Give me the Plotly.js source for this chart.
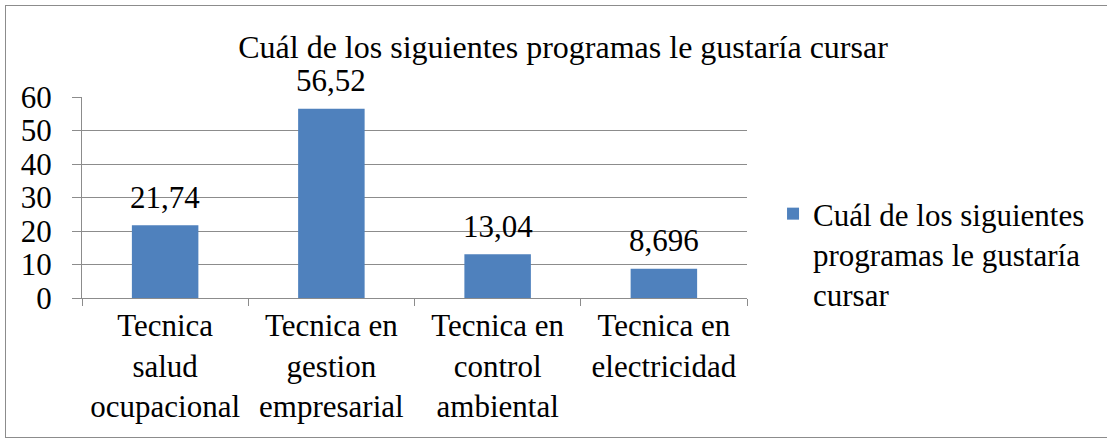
<!DOCTYPE html>
<html>
<head>
<meta charset="utf-8">
<script src="https://cdn.plot.ly/plotly-3.0.1.min.js"></script>
<style>
  html, body { margin: 0; padding: 0; background: #fff; }
  #wrap { position: relative; width: 1107px; height: 440px; }
  #chart { width: 1107px; height: 440px; }
  #frame { position: absolute; left: 5px; top: 5px; width: 1102px; height: 433px;
           border: 1px solid #8c8c8c; border-right: none; pointer-events: none; box-sizing: border-box; }
</style>
</head>
<body>
<div id="wrap">
  <div id="chart"></div>
  <div id="frame"></div>
</div>
<script>
const categories = [
  "Tecnica<br>salud<br>ocupacional",
  "Tecnica en<br>gestion<br>empresarial",
  "Tecnica en<br>control<br>ambiental",
  "Tecnica en<br>electricidad"
];
const values = [21.74, 56.52, 13.04, 8.696];
const valueLabels = ["21,74", "56,52", "13,04", "8,696"];
const seriesName = "Cuál de los siguientes<br>programas le gustaría<br>cursar";
const chartTitle = "Cuál de los siguientes programas le gustaría cursar";
const yTicks = [0, 10, 20, 30, 40, 50, 60];

const font = "Liberation Serif";

const trace = {
  type: "bar",
  x: categories,
  y: values,
  name: seriesName,
  marker: { color: "#4f81bd", line: { width: 0 } },
  showlegend: true,
  hoverinfo: "none"
};

const annotations = categories.map((c, i) => ({
  x: c, y: values[i], xref: "x", yref: "y",
  text: valueLabels[i],
  showarrow: false,
  yanchor: "middle",
  yshift: 28,
  font: { family: font, size: 31, color: "#000" }
}));

const layout = {
  width: 1107,
  height: 440,
  margin: { l: 82, r: 360, t: 97, b: 142 },
  paper_bgcolor: "rgba(0,0,0,0)",
  plot_bgcolor: "#fff",
  font: { family: font, size: 31, color: "#000" },
  title: {
    text: chartTitle,
    font: { family: font, size: 32, color: "#000" },
    x: 563 / 1107, xanchor: "center",
    y: 1 - 47 / 440, yanchor: "middle"
  },
  bargap: 0.6,
  showlegend: true,
  annotations: annotations,
  legend: {
    x: (772 - 82) / 664, xanchor: "left",
    y: (298 - 187) / 201, yanchor: "top",
    font: { family: font, size: 31, color: "#000" },
    valign: "top",
    itemwidth: 30,
    bgcolor: "rgba(0,0,0,0)"
  },
  xaxis: {
    type: "category",
    tickson: "boundaries",
    ticks: "outside",
    ticklen: 7,
    tickcolor: "#8c8c8c",
    showline: true,
    linecolor: "#8c8c8c",
    linewidth: 1,
    showgrid: false,
    tickfont: { family: font, size: 31, color: "#000" },
    fixedrange: true
  },
  yaxis: {
    range: [0, 60],
    tickvals: yTicks,
    ticktext: yTicks.map(String),
    ticks: "outside",
    ticklen: 9,
    ticklabelstandoff: 14,
    tickcolor: "#8c8c8c",
    showline: true,
    linecolor: "#8c8c8c",
    gridcolor: "#8c8c8c",
    gridwidth: 1,
    zeroline: false,
    tickfont: { family: font, size: 31, color: "#000" },
    fixedrange: true
  }
};

Plotly.newPlot("chart", [trace], layout, { displayModeBar: false, staticPlot: true });
</script>
</body>
</html>
